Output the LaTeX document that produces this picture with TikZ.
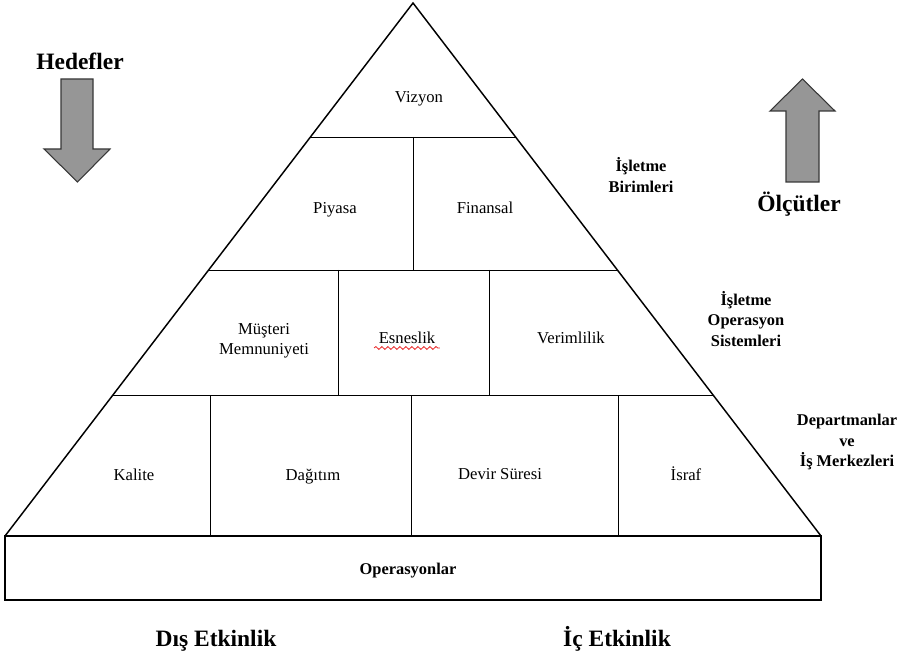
\documentclass[tikz,border=0pt]{standalone}
\usepackage{fontspec}
\setmainfont{Liberation Serif}
\usetikzlibrary{positioning, calc, decorations.pathmorphing}
\definecolor{arrowgray}{RGB}{150,150,150}
\definecolor{edgegray}{RGB}{55,55,55}
\definecolor{spellred}{RGB}{232,30,30}

\tikzset{
  cell/.style={align=center, anchor=base, font=\fontsize{12.5}{15.4}\selectfont},
  tier/.style={align=center, font=\bfseries\fontsize{12.3}{15.4}\selectfont},
  heading/.style={anchor=base, font=\bfseries\fontsize{17.6}{21}\selectfont},
  pyr/.style={line width=1.1pt, line join=miter},
  divider/.style={line width=0.7pt},
  bigarrow/.style={fill=arrowgray, draw=edgegray, line width=0.8pt, line join=miter}
}

\begin{document}
\begin{tikzpicture}[x=0.75pt, y=-0.75pt]
    \useasboundingbox (0,0) rectangle (909,655);

    % Pyramid outline
    \coordinate (apex) at (413,3);
    \coordinate (bl) at (5,536);
    \coordinate (br) at (821,536);
    \draw[pyr] (bl) -- (apex) -- (br);

    % Tier borders
    \draw[divider] ($(bl)!0.7486!(apex)$) -- ($(br)!0.7486!(apex)$);
    \draw[divider] ($(bl)!0.4991!(apex)$) -- ($(br)!0.4991!(apex)$);
    \draw[divider] ($(bl)!0.2645!(apex)$) -- ($(br)!0.2645!(apex)$);

    % Cell borders
    \draw[divider] (413,137) -- (413,270);
    \draw[divider] (338,270) -- (338,395);
    \draw[divider] (489,270) -- (489,395);
    \draw[divider] (210,395) -- (210,536);
    \draw[divider] (411,395) -- (411,536);
    \draw[divider] (618,395) -- (618,536);

    % Base box
    \draw[pyr] (5,536) rectangle (821,600);
    \node[tier, anchor=base] (ops) at (408,574) {Operasyonlar};

    % Cells
    \node[cell] (vizyon) at (419,103) {Vizyon};
    \node[cell] (piyasa) at (335,214) {Piyasa};
    \node[cell] (finansal) at (485,214) {Finansal};
    \node[tier, font=\fontsize{12.5}{15.4}\selectfont] (musteri) at (264,341) {Müşteri\\Memnuniyeti};
    \node[cell] (esneslik) at (407,344) {Esneslik};
    \draw[spellred, line width=0.6pt, decorate, decoration={snake, amplitude=1.1pt, segment length=4.5pt}]
        ([yshift=-3pt]esneslik.base west) -- ([yshift=-3pt]esneslik.base east);
    \node[cell] (verim) at (571,344) {Verimlilik};
    \node[cell] (kalite) at (134,480) {Kalite};
    \node[cell] (dagitim) at (313,480) {Dağıtım};
    \node[cell] (devir) at (500,479) {Devir Süresi};
    \node[cell] (israf) at (686,480) {İsraf};

    % Tier labels
    \node[tier] (birimler) at (641,175) {İşletme\\Birimleri};
    \node[tier] (sistemler) at (746,319) {İşletme\\Operasyon\\Sistemleri};
    \node[tier] (merkezler) at (847,442) {Departmanlar\\ve\\İş Merkezleri};

    % Goals and measures
    \node[heading] (hedefler) at (80,70) {Hedefler};
    \draw[bigarrow] (61,79) -- (93,79) -- (93,149) -- (110,149) -- (77.5,182) -- (44,149) -- (61,149) -- cycle;
    \draw[bigarrow] (802.5,79) -- (835,111) -- (819,111) -- (819,182) -- (786,182) -- (786,111) -- (770,111) -- cycle;
    \node[heading] (olcutler) at (799,212) {Ölçütler};

    % Effectiveness
    \node[heading] (dis) at (216,646) {Dış Etkinlik};
    \node[heading] (ic) at (617,646) {İç Etkinlik};
\end{tikzpicture}
\end{document}
